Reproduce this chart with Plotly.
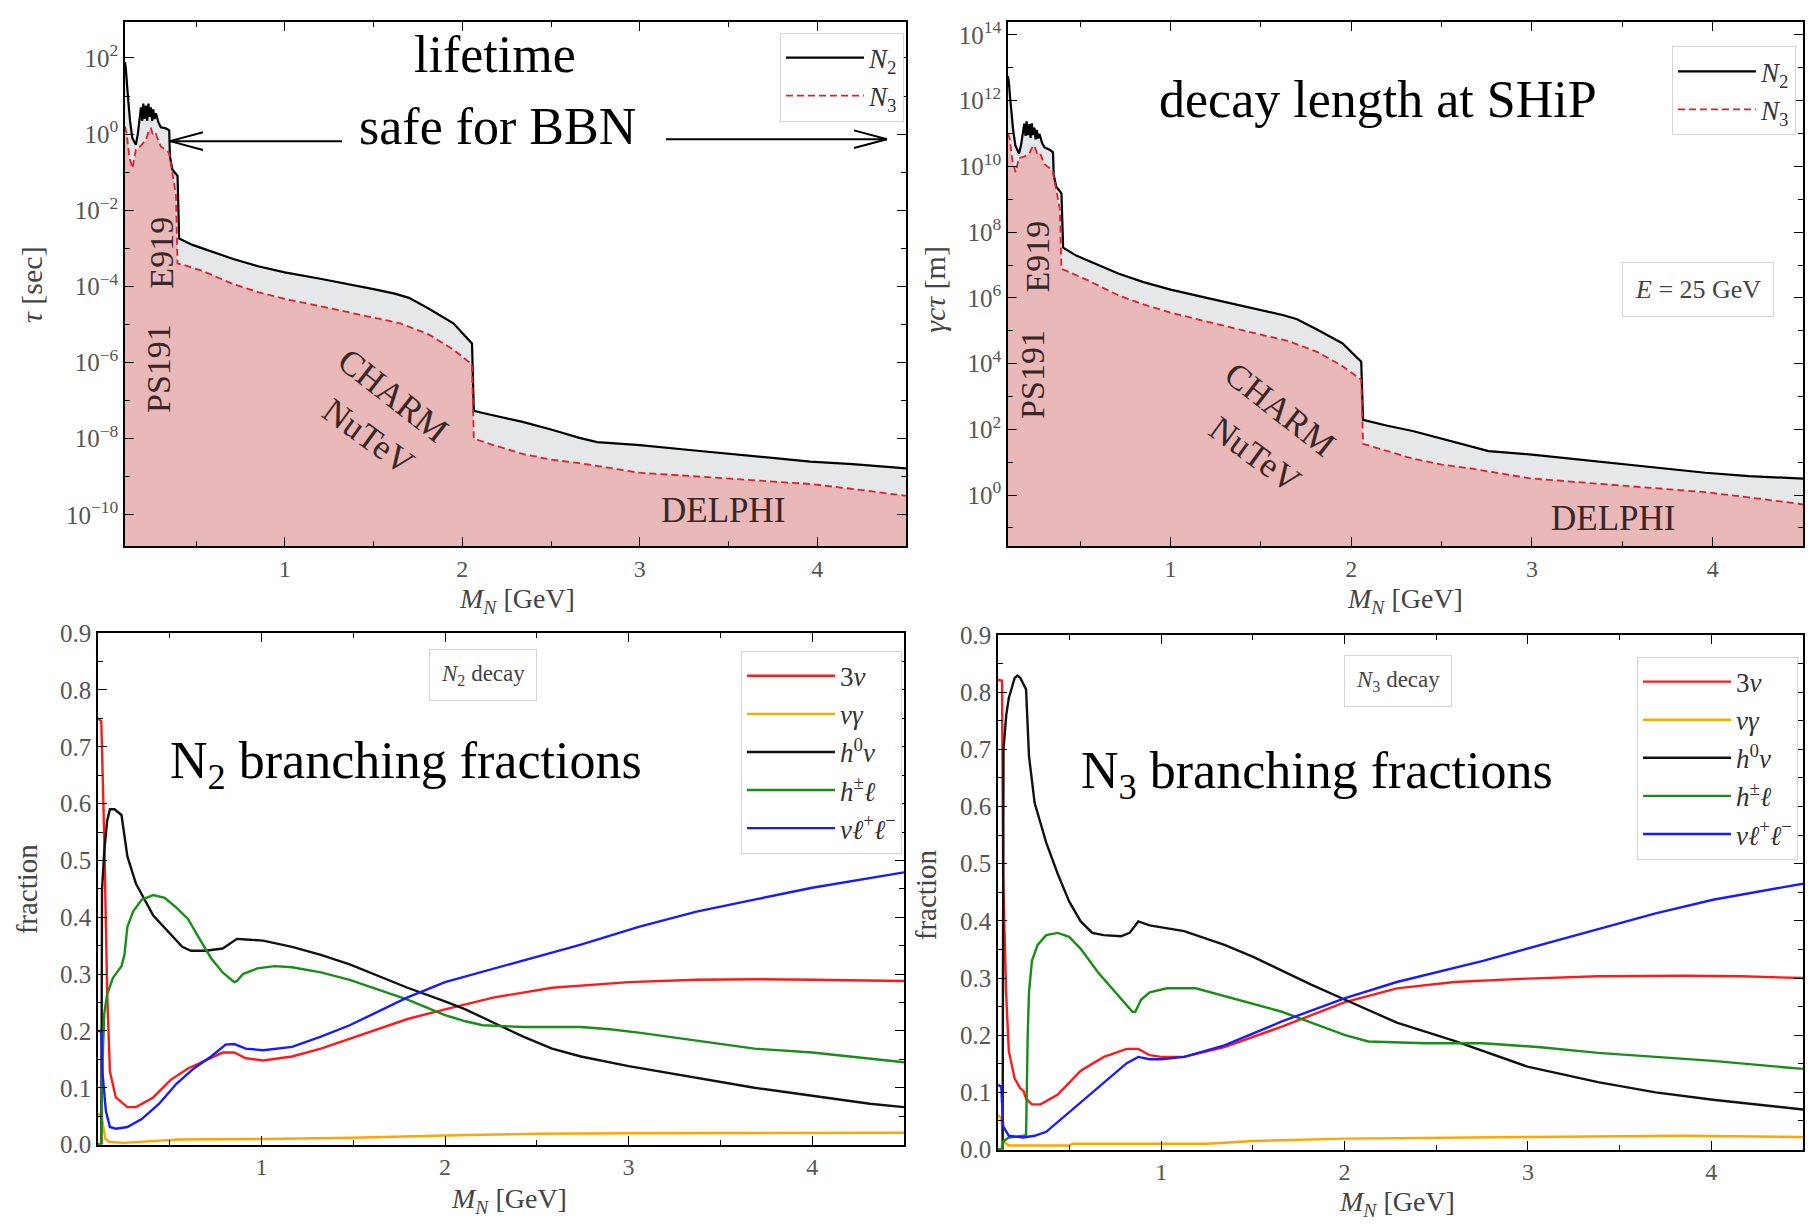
import plotly.graph_objects as go

W, H = 1813, 1231

# ---------------- data ----------------
# Lifetime panel: log10(tau / s)
mass_N2 = [0.100, 0.105, 0.113, 0.128, 0.141, 0.161, 0.172, 0.180, 0.190, 0.197, 0.203, 0.210,
           0.218, 0.225, 0.232, 0.239, 0.246, 0.253, 0.259, 0.266, 0.274, 0.289, 0.302, 0.330,
           0.349, 0.353, 0.367, 0.396, 0.405, 0.48, 0.55, 0.71, 0.85, 1.00, 1.20, 1.36, 1.50,
           1.62, 1.70, 1.81, 1.95, 2.055, 2.065, 2.11, 2.20, 2.34, 2.50, 2.66, 2.76, 3.00, 3.31,
           3.64, 3.96, 4.20, 4.50]
log10_tau_N2 = [1.90, 1.70, 1.20, 0.36, -0.10, -0.28, 0.00, 0.30, 0.70, 0.35, 0.80, 0.40,
                0.75, 0.35, 0.80, 0.45, 0.70, 0.35, 0.65, 0.40, 0.55, 0.30, 0.18, 0.15,
                0.10, -0.58, -0.93, -1.10, -2.74, -2.91, -3.02, -3.28, -3.47, -3.63, -3.80, -3.94, -4.07,
                -4.19, -4.30, -4.58, -4.97, -5.50, -7.27, -7.32, -7.42, -7.56, -7.76, -7.98, -8.09, -8.17, -8.31,
                -8.45, -8.60, -8.67, -8.78]
mass_N3 = [0.100, 0.110, 0.124, 0.142, 0.161, 0.190, 0.218, 0.235, 0.246, 0.260, 0.274, 0.302,
           0.330, 0.349, 0.364, 0.377, 0.387, 0.396, 0.42, 0.54, 0.71, 0.85, 1.00, 1.20, 1.36,
           1.50, 1.65, 1.81, 1.95, 2.055, 2.065, 2.17, 2.34, 2.50, 2.66, 2.99, 3.31, 3.64, 3.96,
           4.20, 4.50]
log10_tau_N3 = [0.20, 0.00, -0.60, -0.90, -0.41, -0.30, -0.15, 0.10, 0.15, -0.05, 0.00, -0.33,
                -0.41, -0.50, -0.93, -1.35, -1.60, -3.40, -3.42, -3.60, -3.94, -4.15, -4.33, -4.52, -4.68,
                -4.82, -4.97, -5.26, -5.66, -6.05, -8.00, -8.16, -8.40, -8.55, -8.64, -8.89, -8.99, -9.09, -9.19,
                -9.32, -9.50]

# Decay length at SHiP panel: log10(gamma c tau / m), same masses
log10_len_N2 = [12.75, 12.55, 12.02, 11.13, 10.63, 10.39, 10.64, 10.92, 11.30, 10.93, 11.37, 10.95,
                11.29, 10.87, 11.31, 10.95, 11.18, 10.82, 11.11, 10.85, 10.99, 10.71, 10.58, 10.51,
                10.43, 9.75, 9.38, 9.18, 7.53, 7.28, 7.12, 6.74, 6.48, 6.25, 6.00, 5.80, 5.63,
                5.48, 5.35, 5.04, 4.62, 4.06, 2.29, 2.23, 2.11, 1.95, 1.72, 1.47, 1.34, 1.23, 1.05,
                0.86, 0.68, 0.58, 0.50]
log10_len_N3 = [11.00, 10.83, 10.18, 9.82, 10.26, 10.30, 10.39, 10.60, 10.63, 10.41, 10.44, 10.07,
                9.95, 9.83, 9.38, 8.95, 8.69, 6.88, 6.83, 6.54, 6.08, 5.80, 5.55, 5.28, 5.06,
                4.88, 4.69, 4.36, 3.93, 3.51, 1.56, 1.38, 1.11, 0.93, 0.81, 0.51, 0.37, 0.22, 0.09,
                -0.07, -0.28]

# Branching fractions, N2
n2_3nu_x = [0.11, 0.128, 0.144, 0.160, 0.175, 0.207, 0.27, 0.317, 0.411, 0.506, 0.60, 0.695, 0.789,
            0.852, 0.915, 1.009, 1.167, 1.324, 1.481, 1.639, 1.796, 2.0, 2.268, 2.583, 3.0, 3.37,
            3.685, 4.0, 4.5]
n2_3nu_y = [0.75, 0.745, 0.54, 0.265, 0.128, 0.083, 0.066, 0.066, 0.083, 0.114, 0.134, 0.148, 0.162,
            0.162, 0.152, 0.148, 0.155, 0.169, 0.186, 0.203, 0.221, 0.238, 0.259, 0.276, 0.286, 0.29,
            0.291, 0.29, 0.288]
n2_nugamma_x = [0.11, 0.13, 0.15, 0.17, 0.25, 0.4, 0.55, 1.0, 1.5, 2.0, 2.5, 3.0, 4.5]
n2_nugamma_y = [0.055, 0.05, 0.01, 0.005, 0.003, 0.006, 0.009, 0.010, 0.012, 0.016, 0.019, 0.020, 0.021]
n2_h0nu_x = [0.11, 0.128, 0.132, 0.145, 0.16, 0.175, 0.2, 0.222, 0.238, 0.27, 0.317, 0.411, 0.506,
             0.569, 0.616, 0.695, 0.789, 0.836, 0.867, 0.915, 1.009, 1.167, 1.324, 1.481, 1.639,
             1.796, 2.0, 2.111, 2.268, 2.426, 2.583, 2.74, 3.0, 3.37, 3.685, 4.0, 4.314, 4.5]
n2_h0nu_y = [0.0, 0.0, 0.45, 0.52, 0.57, 0.59, 0.59, 0.585, 0.58, 0.507, 0.459, 0.403, 0.369,
             0.348, 0.341, 0.341, 0.345, 0.355, 0.362, 0.361, 0.359, 0.348, 0.334, 0.317, 0.297,
             0.276, 0.252, 0.238, 0.214, 0.19, 0.169, 0.155, 0.138, 0.117, 0.10, 0.086, 0.072, 0.066]
n2_hl_x = [0.11, 0.128, 0.135, 0.144, 0.16, 0.191, 0.222, 0.238, 0.254, 0.27, 0.301, 0.348, 0.411,
           0.474, 0.537, 0.6, 0.663, 0.726, 0.789, 0.852, 0.867, 0.899, 0.978, 1.072, 1.167, 1.324,
           1.481, 1.639, 1.796, 2.0, 2.111, 2.205, 2.426, 2.74, 2.898, 3.055, 3.37, 3.685, 4.0,
           4.314, 4.5]
n2_hl_y = [0.0, 0.0, 0.15, 0.23, 0.265, 0.293, 0.307, 0.314, 0.334, 0.383, 0.41, 0.431, 0.439,
           0.434, 0.417, 0.397, 0.362, 0.328, 0.303, 0.286, 0.288, 0.30, 0.31, 0.314, 0.312, 0.303,
           0.29, 0.272, 0.255, 0.228, 0.217, 0.21, 0.207, 0.207, 0.203, 0.197, 0.183, 0.169, 0.162,
           0.152, 0.145]
n2_nll_x = [0.11, 0.128, 0.134, 0.153, 0.175, 0.207, 0.27, 0.348, 0.443, 0.537, 0.632, 0.726, 0.805,
            0.852, 0.915, 1.009, 1.167, 1.324, 1.481, 1.639, 1.796, 2.0, 2.268, 2.74, 3.055, 3.37,
            3.685, 4.0, 4.5]
n2_nll_y = [0.20, 0.20, 0.128, 0.059, 0.031, 0.028, 0.031, 0.045, 0.072, 0.107, 0.134, 0.155, 0.176,
            0.177, 0.169, 0.166, 0.172, 0.19, 0.21, 0.234, 0.259, 0.286, 0.31, 0.352, 0.383, 0.41,
            0.431, 0.452, 0.479]

# Branching fractions, N3
n3_3nu_x = [0.11, 0.132, 0.138, 0.154, 0.169, 0.201, 0.232, 0.248, 0.263, 0.295, 0.342, 0.436, 0.561,
            0.687, 0.812, 0.875, 0.937, 1.0, 1.125, 1.345, 1.658, 2.003, 2.285, 2.599, 2.997, 3.382,
            3.853, 4.166, 4.5]
n3_3nu_y = [0.822, 0.82, 0.48, 0.275, 0.172, 0.124, 0.107, 0.103, 0.089, 0.079, 0.079, 0.096, 0.138,
            0.162, 0.176, 0.176, 0.165, 0.162, 0.162, 0.179, 0.215, 0.258, 0.282, 0.293, 0.299, 0.303,
            0.304, 0.303, 0.30]
n3_nugamma_x = [0.11, 0.128, 0.14, 0.169, 0.5, 0.516, 1.0, 1.25, 1.5, 2.0, 3.0, 3.85, 4.5]
n3_nugamma_y = [0.06, 0.055, 0.014, 0.007, 0.007, 0.010, 0.010, 0.010, 0.015, 0.019, 0.022, 0.024, 0.022]
n3_h0nu_x = [0.11, 0.135, 0.14, 0.155, 0.169, 0.201, 0.216, 0.232, 0.263, 0.279, 0.31, 0.373, 0.436,
             0.498, 0.561, 0.624, 0.687, 0.781, 0.828, 0.875, 0.937, 1.0, 1.125, 1.345, 1.502,
             1.658, 1.815, 2.003, 2.285, 2.599, 2.997, 3.382, 3.696, 4.009, 4.5]
n3_h0nu_y = [0.0, 0.0, 0.70, 0.76, 0.79, 0.825, 0.829, 0.825, 0.805, 0.688, 0.606, 0.537, 0.482,
             0.434, 0.399, 0.379, 0.375, 0.373, 0.379, 0.399, 0.392, 0.389, 0.382, 0.358, 0.337,
             0.313, 0.289, 0.262, 0.222, 0.19, 0.145, 0.118, 0.10, 0.087, 0.07]
n3_hl_x = [0.11, 0.13, 0.138, 0.169, 0.248, 0.263, 0.272, 0.279, 0.295, 0.326, 0.373, 0.436, 0.498,
           0.561, 0.655, 0.749, 0.843, 0.859, 0.89, 0.937, 1.031, 1.188, 1.345, 1.658, 2.003, 2.129,
           2.442, 2.755, 3.069, 3.382, 3.696, 4.009, 4.5]
n3_hl_y = [0.0, 0.0, 0.014, 0.021, 0.024, 0.025, 0.20, 0.275, 0.33, 0.358, 0.375, 0.379, 0.372,
           0.351, 0.31, 0.275, 0.241, 0.241, 0.262, 0.275, 0.282, 0.282, 0.268, 0.241, 0.20, 0.189,
           0.186, 0.186, 0.179, 0.169, 0.162, 0.155, 0.141]
n3_nll_x = [0.11, 0.128, 0.138, 0.169, 0.248, 0.31, 0.373, 0.436, 0.561, 0.687, 0.812, 0.875, 0.937,
            1.0, 1.125, 1.345, 1.658, 2.003, 2.285, 2.755, 3.069, 3.382, 3.696, 4.009, 4.5]
n3_nll_y = [0.113, 0.11, 0.041, 0.024, 0.021, 0.024, 0.031, 0.048, 0.083, 0.117, 0.151, 0.162, 0.158,
            0.158, 0.162, 0.182, 0.224, 0.265, 0.293, 0.33, 0.358, 0.385, 0.413, 0.437, 0.465]

channel_labels = ["3<i>ν</i>", "<i>νγ</i>", "<i>h</i><sup>0</sup><i>ν</i>",
                  "<i>h</i><sup>±</sup><i>ℓ</i>", "<i>νℓ</i><sup>+</sup><i>ℓ</i><sup>−</sup>"]
channel_colors = ["#ff1a1a", "#ffa500", "#111111", "#1a8c1a", "#1a1aff"]

tau_ticks_exp = [-10, -8, -6, -4, -2, 0, 2]
len_ticks_exp = [0, 2, 4, 6, 8, 10, 12, 14]
mass_ticks = [1, 2, 3, 4]
frac_ticks = [0.0, 0.1, 0.2, 0.3, 0.4, 0.5, 0.6, 0.7, 0.8, 0.9]

# ---------------- helpers ----------------
SERIF = "Liberation Serif"
PINK = "#e9b8b8"
GREY = "#e6e7e9"


def px(x):
    return x / W


def py(y):
    return 1 - y / H


def tolin(vals):
    return [10 ** v for v in vals]


def sup_label(e):
    s = str(e).replace("-", "−")
    return "10<sup>" + s + "</sup>"


tickfont = dict(family=SERIF, size=25, color="#555555")


def base_axis():
    return dict(showline=True, linecolor="black", linewidth=1.5, mirror="allticks",
                ticks="inside", ticklen=9, tickwidth=1.3, tickcolor="black",
                showgrid=False, zeroline=False, tickfont=tickfont)


def x_axis(domain, anchor, rng):
    a = base_axis()
    a.update(domain=domain, anchor=anchor, range=rng, tickmode="array",
             tickvals=mass_ticks, ticktext=[str(t) for t in mass_ticks],
             tickfont=dict(family=SERIF, size=24, color="#555555"),
             minor=dict(tickmode="array", tickvals=[0.5, 1.5, 2.5, 3.5], ticks="inside",
                        ticklen=5, tickwidth=1, tickcolor="black"))
    return a


def log_axis(domain, anchor, rng, exps):
    a = base_axis()
    lo, hi = int(rng[0]) - 2, int(rng[1]) + 2
    minors = [10.0 ** e for e in range(lo, hi) if e not in exps and (e % 2 != 0)]
    a.update(domain=domain, anchor=anchor, type="log", range=rng, tickmode="array",
             tickvals=[10.0 ** e for e in exps], ticktext=[sup_label(e) for e in exps],
             minor=dict(tickmode="array", tickvals=minors, ticks="inside",
                        ticklen=5, tickwidth=1, tickcolor="black"))
    return a


def frac_axis(domain, anchor):
    a = base_axis()
    a.update(domain=domain, anchor=anchor, range=[0, 0.9], tickmode="array",
             tickvals=frac_ticks, ticktext=["%.1f" % t for t in frac_ticks],
             minor=dict(tickmode="array", tickvals=[0.05 + 0.1 * i for i in range(9)],
                        ticks="inside", ticklen=5, tickwidth=1, tickcolor="black"))
    return a


fig = go.Figure()


def add_tau_panel(xa, ya, legend, yN2, yN3):
    fig.add_trace(go.Scatter(x=mass_N3, y=tolin(yN3), mode="lines", line=dict(width=0),
                             fill="tozeroy", fillcolor=PINK, showlegend=False,
                             xaxis=xa, yaxis=ya, hoverinfo="skip"))
    fig.add_trace(go.Scatter(x=mass_N2, y=tolin(yN2), mode="lines", line=dict(width=0),
                             fill="tonexty", fillcolor=GREY, showlegend=False,
                             xaxis=xa, yaxis=ya, hoverinfo="skip"))
    fig.add_trace(go.Scatter(x=mass_N2, y=tolin(yN2), mode="lines",
                             line=dict(color="black", width=2.2),
                             name="<i>N</i><sub>2</sub>", legend=legend, xaxis=xa, yaxis=ya))
    fig.add_trace(go.Scatter(x=mass_N3, y=tolin(yN3), mode="lines",
                             line=dict(color="#e0202a", width=1.8, dash="7px,4px"),
                             name="<i>N</i><sub>3</sub>", legend=legend, xaxis=xa, yaxis=ya))


add_tau_panel("x", "y", "legend", log10_tau_N2, log10_tau_N3)
add_tau_panel("x2", "y2", "legend2", log10_len_N2, log10_len_N3)


def add_frac_panel(xa, ya, legend, series):
    for (xs, ys), lab, col in zip(series, channel_labels, channel_colors):
        fig.add_trace(go.Scatter(x=xs, y=ys, mode="lines", line=dict(color=col, width=2.4),
                                 name=lab, legend=legend, xaxis=xa, yaxis=ya))


add_frac_panel("x3", "y3", "legend3",
               [(n2_3nu_x, n2_3nu_y), (n2_nugamma_x, n2_nugamma_y), (n2_h0nu_x, n2_h0nu_y),
                (n2_hl_x, n2_hl_y), (n2_nll_x, n2_nll_y)])
add_frac_panel("x4", "y4", "legend4",
               [(n3_3nu_x, n3_3nu_y), (n3_nugamma_x, n3_nugamma_y), (n3_h0nu_x, n3_h0nu_y),
                (n3_hl_x, n3_hl_y), (n3_nll_x, n3_nll_y)])

# ---------------- layout ----------------
top_y = [py(545), py(9)]


def legend_style(iw):
    return dict(bgcolor="rgba(255,255,255,0.92)", bordercolor="#d4d4d4", borderwidth=1,
                font=dict(family=SERIF, size=27, color="#333333"), itemwidth=iw,
                traceorder="normal")


fig.update_layout(
    width=W, height=H, margin=dict(l=0, r=0, t=0, b=0),
    paper_bgcolor="white", plot_bgcolor="white",
    xaxis=x_axis([px(125), px(906)], "y", [0.1, 4.5]),
    yaxis=log_axis(top_y, "x", [-10.82, 2.95], tau_ticks_exp),
    xaxis2=x_axis([px(1008), px(1803)], "y2", [0.1, 4.5]),
    yaxis2=log_axis(top_y, "x2", [-1.55, 14.4], len_ticks_exp),
    xaxis3=x_axis([px(98), px(904)], "y3", [0.11, 4.5]),
    yaxis3=frac_axis([py(1157), py(634)], "x3"),
    xaxis4=x_axis([px(998), px(1803)], "y4", [0.11, 4.5]),
    yaxis4=frac_axis([py(1162), py(636)], "x4"),
    legend=dict(x=px(904), xanchor="right", y=py(20), yanchor="top", **legend_style(78)),
    legend2=dict(x=px(1796), xanchor="right", y=py(34), yanchor="top", **legend_style(78)),
    legend3=dict(x=px(902), xanchor="right", y=py(652), yanchor="top", **legend_style(88)),
    legend4=dict(x=px(1798), xanchor="right", y=py(658), yanchor="top", **legend_style(88)),
    showlegend=True,
)

annotations = []


def text(x, y, t, size, color="black", angle=0, **kw):
    annotations.append(dict(x=px(x), y=py(y), xref="paper", yref="paper", text=t,
                            showarrow=False, textangle=angle, xanchor="center", yanchor="middle",
                            font=dict(family=SERIF, size=size, color=color), **kw))


# big titles
text(495, 42, "lifetime", 52)
text(497, 116, "safe for BBN", 52)
text(1378, 88, "decay length at SHiP", 52)
text(406, 768, "N<sub>2</sub> branching fractions", 52)
text(1317, 779, "N<sub>3</sub> branching fractions", 52)

# experiment labels
lab_col = "#3a2626"
text(158, 364, "PS191", 34, lab_col, -90)
text(162, 245, "E919", 34, lab_col, -90)
text(393, 391, "CHARM", 35, lab_col, 38)
text(368, 433, "NuTeV", 35, lab_col, 36)
text(723, 509, "DELPHI", 35, lab_col)
text(1033, 370, "PS191", 34, lab_col, -90)
text(1038, 249, "E919", 34, lab_col, -90)
text(1280, 405, "CHARM", 35, lab_col, 38)
text(1255, 451, "NuTeV", 35, lab_col, 36)
text(1613, 517, "DELPHI", 35, lab_col)

# boxed notes
text(1698, 283, "<i>E</i> = 25 GeV", 26, "#444444",
     bordercolor="#d4d4d4", borderwidth=1, borderpad=12, bgcolor="white")
text(483, 677, "<i>N</i><sub>2</sub> decay", 23, "#444444",
     bordercolor="#d4d4d4", borderwidth=1, borderpad=11, bgcolor="white")
text(1398, 683, "<i>N</i><sub>3</sub> decay", 23, "#444444",
     bordercolor="#d4d4d4", borderwidth=1, borderpad=11, bgcolor="white")

# axis titles
ax_col = "#444444"
mn = "<i>M</i><sub><i>N</i></sub> [GeV]"
text(517, 601, mn, 28, ax_col)
text(1405, 601, mn, 28, ax_col)
text(509, 1214, mn, 28, ax_col)
text(1397, 1217, mn, 28, ax_col)
text(32, 278, "<i>τ</i> [sec]", 30, ax_col, -90)
text(935, 283, "<i>γcτ</i> [m]", 30, ax_col, -90)
text(27, 896, "fraction", 29, ax_col, -90)
text(926, 902, "fraction", 29, ax_col, -90)

fig.update_layout(annotations=annotations)

# open-headed arrows for "safe for BBN"
shapes = []


def seg(x0, y0, x1, y1):
    shapes.append(dict(type="line", xref="paper", yref="paper", x0=px(x0), y0=py(y0),
                       x1=px(x1), y1=py(y1), line=dict(color="black", width=2)))


seg(342, 131, 170, 131)
seg(170, 131, 203, 122)
seg(170, 131, 203, 140)
seg(666, 129, 887, 129)
seg(887, 129, 854, 120)
seg(887, 129, 854, 138)
fig.update_layout(shapes=shapes)

fig.write_html("out.html")
